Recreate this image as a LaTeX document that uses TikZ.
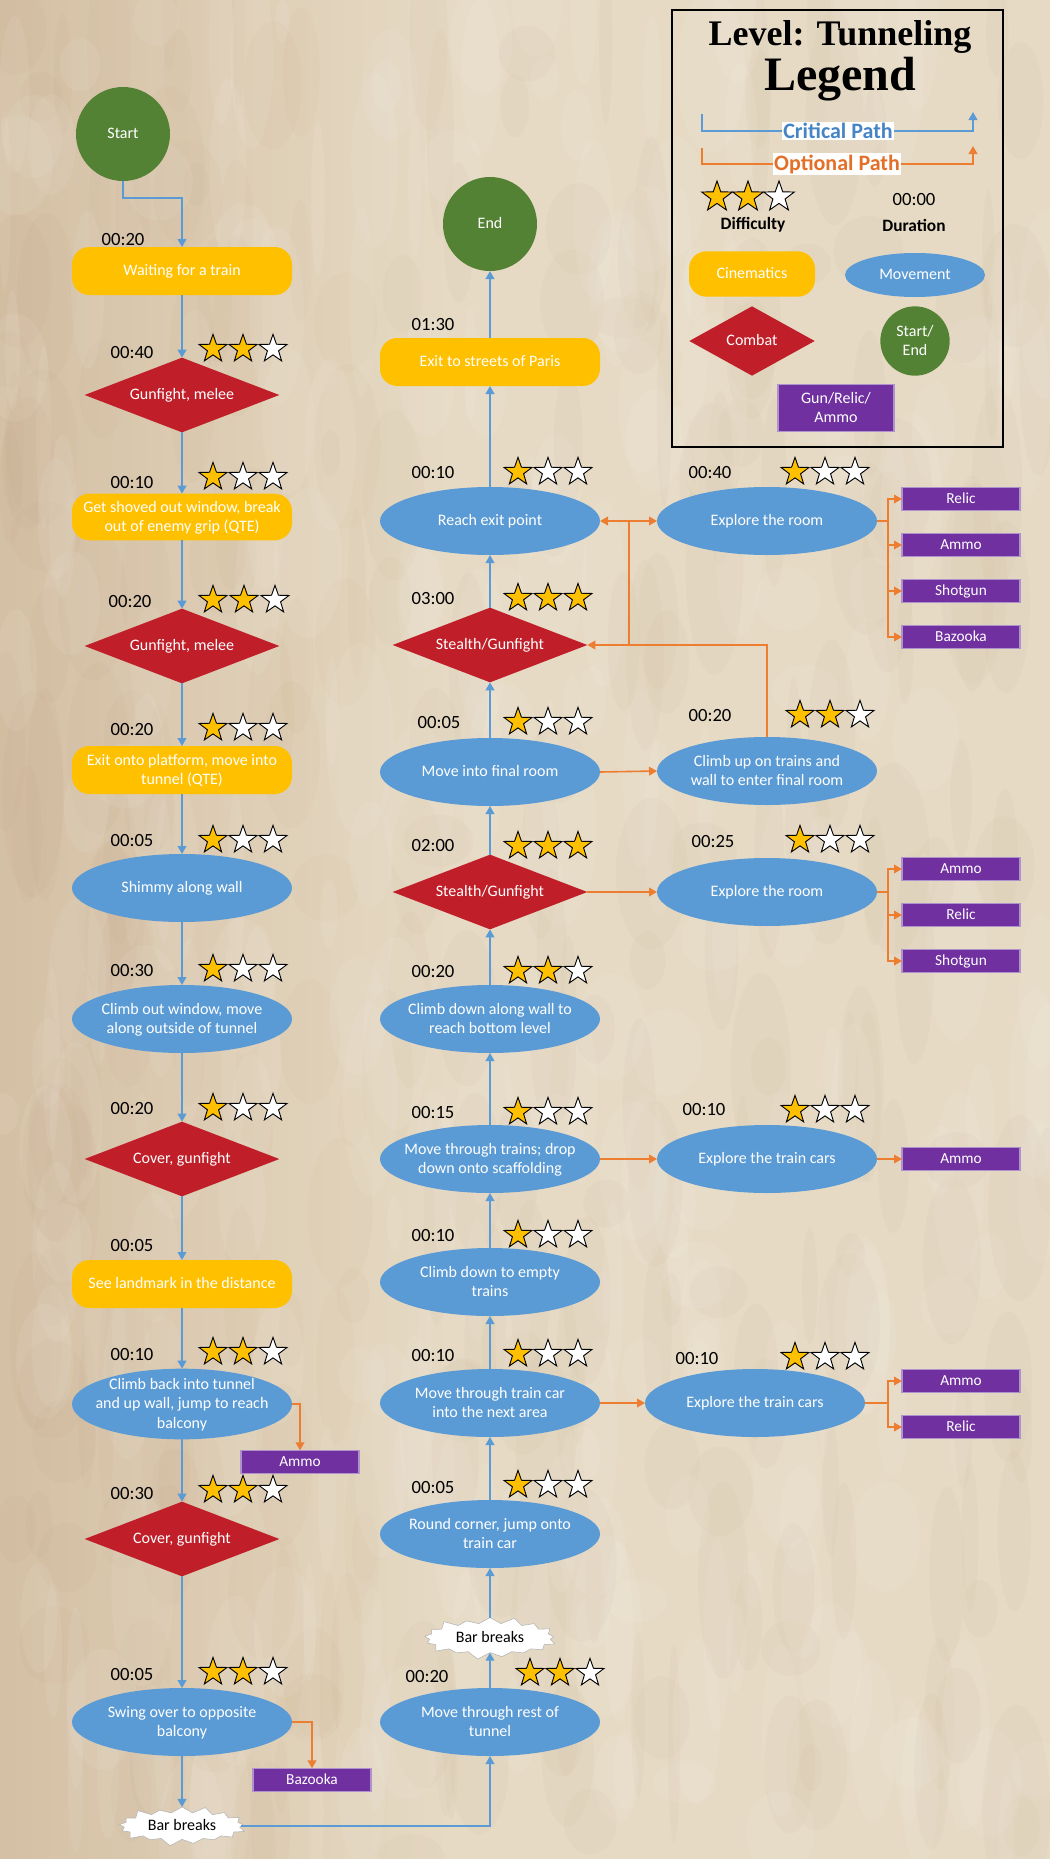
\documentclass[tikz,border=0pt]{standalone}
\usepackage{fontspec}
\setmainfont{Carlito}
\newfontfamily\titlefont{Liberation Serif}
\usetikzlibrary{shapes.geometric,shapes.symbols,arrows.meta}
\definecolor{paper}{RGB}{230,218,196}
\definecolor{paperD}{RGB}{170,130,90}
\definecolor{cineY}{RGB}{255,192,0}
\definecolor{moveB}{RGB}{91,155,213}
\definecolor{combR}{RGB}{192,30,40}
\definecolor{startG}{RGB}{84,130,53}
\definecolor{purp}{RGB}{112,48,160}
\definecolor{purpL}{RGB}{175,145,205}
\definecolor{critB}{RGB}{91,155,213}
\definecolor{critT}{RGB}{70,132,198}
\definecolor{optO}{RGB}{237,125,49}
\definecolor{optT}{RGB}{228,112,40}
\definecolor{goldS}{RGB}{255,192,0}
\newcommand\ctext[1]{\makebox[0pt]{\smash{\raisebox{-0.3em}{\begin{tabular}{@{}c@{}}#1\end{tabular}}}}}
\newcommand\ratestars[5]{%
  \foreach \k in {1,2,3}{%
    \pgfmathsetmacro\sx{#2+(\k-1)*#5}%
    \ifnum\k>#4\relax
      \node[whitestar] (#1-\k) at (\sx,#3) {};
    \else
      \node[goldstar] (#1-\k) at (\sx,#3) {};
    \fi
  }%
}
\begin{document}
\begin{tikzpicture}[x=0.75pt,y=-0.75pt,
  every node/.style={inner sep=0pt, outer sep=0pt},
  nodefont/.style={font=\fontsize{12}{14.5}\selectfont, text=white},
  cinebox/.style={nodefont, rectangle, rounded corners=13pt, fill=cineY, minimum width=165pt, minimum height=36pt},
  movebox/.style={nodefont, ellipse, fill=moveB, minimum width=165pt, minimum height=51pt},
  combatbox/.style={nodefont, diamond, fill=combR, minimum width=146pt, minimum height=56pt},
  termbox/.style={nodefont, circle, fill=startG, minimum size=70.5pt},
  itembox/.style={nodefont, font=\fontsize{11.5}{13}\selectfont, rectangle, fill=purp, draw=purpL, line width=0.8pt, minimum width=88.5pt, minimum height=17.5pt},
  burstbox/.style={starburst, starburst points=17, starburst point height=6pt, fill=white, draw=gray!60, text=black, font=\fontsize{12}{14}\selectfont, minimum width=99pt, minimum height=32pt},
  timelbl/.style={font=\fontsize{14}{16}\selectfont, text=black},
  goldstar/.style={star, star points=5, star point ratio=2.5, minimum size=22pt, fill=goldS, draw=black, line width=0.7pt},
  whitestar/.style={goldstar, fill=white},
  critline/.style={draw=critB, line width=1.2pt, -{Triangle[width=6.5pt,length=6pt]}},
  optline/.style={draw=optO, line width=1.2pt, -{Triangle[width=6.5pt,length=6pt]}},
]
\useasboundingbox (0,0) rectangle (1050,1859);
% ---------- parchment background ----------
\fill[paper] (0,0) rectangle (1050,1859);
\begin{scope}
\clip (0,0) rectangle (1050,1859);
\shade[left color=paperD!30!paper, right color=paper] (0,0) rectangle (450,1859);
\pgfmathsetseed{3}
\foreach \i in {1,...,260}{
  \pgfmathsetmacro\bx{rnd*1050}
  \pgfmathsetmacro\by{rnd*1859}
  \pgfmathsetmacro\rx{6+rnd*30}
  \pgfmathsetmacro\ry{20+rnd*90}
  \fill[paperD, opacity=0.035] (\bx,\by) ellipse [x radius=\rx, y radius=\ry];
}
\foreach \i in {1,...,260}{
  \pgfmathsetmacro\bx{rnd*1050}
  \pgfmathsetmacro\by{rnd*1859}
  \pgfmathsetmacro\rx{6+rnd*30}
  \pgfmathsetmacro\ry{20+rnd*80}
  \fill[white, opacity=0.07] (\bx,\by) ellipse [x radius=\rx, y radius=\ry];
}
\end{scope}

% ---------- left column ----------
\node[termbox] (start) at (123,134) {\ctext{Start}};
\node[cinebox] (waiting) at (182,271) {\ctext{Waiting for a train}};
\node[combatbox] (gun1) at (182,395) {\ctext{Gunfight, melee}};
\node[cinebox, minimum height=35pt] (shoved) at (182,517) {\ctext{Get shoved out window, break\\out of enemy grip (QTE)}};
\node[combatbox] (gun2) at (182,646) {\ctext{Gunfight, melee}};
\node[cinebox] (exitplat) at (182,770) {\ctext{Exit onto platform, move into\\tunnel (QTE)}};
\node[movebox] (shimmy) at (182,888) {\ctext{Shimmy along wall}};
\node[movebox] (climbout) at (182,1019) {\ctext{Climb out window, move\\along outside of tunnel}};
\node[combatbox] (cover1) at (182,1159) {\ctext{Cover, gunfight}};
\node[cinebox] (landmark) at (182,1284) {\ctext{See landmark in the distance}};
\node[movebox, minimum height=53pt] (climbback) at (182,1404) {\ctext{Climb back into tunnel\\and up wall, jump to reach\\balcony}};
\node[combatbox] (cover2) at (182,1539) {\ctext{Cover, gunfight}};
\node[movebox] (swing) at (182,1722) {\ctext{Swing over to opposite\\balcony}};
\node[burstbox] (bar1) at (182,1826) {\ctext{Bar breaks}};
\node[itembox] (ammoL) at (300,1462) {\ctext{Ammo}};
\node[itembox] (bazL) at (312,1780) {\ctext{Bazooka}};

\node[timelbl] (tl1) at (123,240) {00:20};
\node[timelbl] (tl2) at (132,353) {00:40};
\node[timelbl] (tl3) at (132,483) {00:10};
\node[timelbl] (tl4) at (130,602) {00:20};
\node[timelbl] (tl5) at (132,730) {00:20};
\node[timelbl] (tl6) at (132,841) {00:05};
\node[timelbl] (tl7) at (132,971) {00:30};
\node[timelbl] (tl8) at (132,1109) {00:20};
\node[timelbl] (tl9) at (132,1245) {00:05};
\node[timelbl] (tl10) at (132,1354) {00:10};
\node[timelbl] (tl11) at (132,1493) {00:30};
\node[timelbl] (tl12) at (132,1674) {00:05};

\ratestars{sA}{213}{349}{2}{30}
\ratestars{sB}{213}{477}{1}{30}
\ratestars{sC}{213}{600}{2}{31}
\ratestars{sD}{213}{728}{1}{30}
\ratestars{sE}{213}{840}{1}{30}
\ratestars{sF}{213}{969}{1}{30}
\ratestars{sG}{213}{1108}{1}{30}
\ratestars{sH}{213}{1352}{2}{30}
\ratestars{sI}{213}{1490}{2}{30}
\ratestars{sJ}{213}{1672}{2}{30}

% ---------- middle column ----------
\node[termbox] (end) at (490,224) {\ctext{End}};
\node[cinebox] (exitparis) at (490,362) {\ctext{Exit to streets of Paris}};
\node[movebox] (reach) at (490,521) {\ctext{Reach exit point}};
\node[combatbox] (stealth1) at (490,645) {\ctext{Stealth/Gunfight}};
\node[movebox] (movefinal) at (490,772) {\ctext{Move into final room}};
\node[combatbox] (stealth2) at (490,892) {\ctext{Stealth/Gunfight}};
\node[movebox] (climbwall) at (490,1019) {\ctext{Climb down along wall to\\reach bottom level}};
\node[movebox] (movetrains) at (490,1159) {\ctext{Move through trains; drop\\down onto scaffolding}};
\node[movebox] (climbempty) at (490,1282) {\ctext{Climb down to empty\\trains}};
\node[movebox] (movecar) at (490,1403) {\ctext{Move through train car\\into the next area}};
\node[movebox] (round) at (490,1534) {\ctext{Round corner, jump onto\\train car}};
\node[burstbox, minimum width=103pt, minimum height=34pt] (bar2) at (490,1638) {\ctext{Bar breaks}};
\node[movebox] (tunnel) at (490,1722) {\ctext{Move through rest of\\tunnel}};

\node[timelbl] (tm1) at (433,325) {01:30};
\node[timelbl] (tm2) at (433,473) {00:10};
\node[timelbl] (tm3) at (433,599) {03:00};
\node[timelbl] (tm4) at (439,723) {00:05};
\node[timelbl] (tm5) at (433,846) {02:00};
\node[timelbl] (tm6) at (433,972) {00:20};
\node[timelbl] (tm7) at (433,1113) {00:15};
\node[timelbl] (tm8) at (433,1236) {00:10};
\node[timelbl] (tm9) at (433,1355) {00:10};
\node[timelbl] (tm10) at (433,1487) {00:05};
\node[timelbl] (tm11) at (427,1676) {00:20};

\ratestars{mA}{518}{472}{1}{30}
\ratestars{mB}{518}{598}{3}{30}
\ratestars{mC}{518}{722}{1}{30}
\ratestars{mD}{518}{846}{3}{30}
\ratestars{mE}{518}{971}{2}{30}
\ratestars{mF}{518}{1112}{1}{30}
\ratestars{mG}{518}{1235}{1}{30}
\ratestars{mH}{518}{1354}{1}{30}
\ratestars{mI}{518}{1485}{1}{30}
\ratestars{mJ}{530}{1673}{2}{30}

% ---------- right column ----------
\node[movebox] (explore1) at (767,521) {\ctext{Explore the room}};
\node[movebox] (climbup) at (767,771) {\ctext{Climb up on trains and\\wall to enter final room}};
\node[movebox] (explore2) at (767,892) {\ctext{Explore the room}};
\node[movebox] (explore3) at (767,1159) {\ctext{Explore the train cars}};
\node[movebox] (explore4) at (755,1403) {\ctext{Explore the train cars}};

\node[timelbl] (tr1) at (710,473) {00:40};
\node[timelbl] (tr2) at (710,716) {00:20};
\node[timelbl] (tr3) at (713,842) {00:25};
\node[timelbl] (tr4) at (704,1110) {00:10};
\node[timelbl] (tr5) at (697,1358) {00:10};

\ratestars{rA}{795}{472}{1}{30}
\ratestars{rB}{800}{715}{2}{30}
\ratestars{rC}{800}{840}{1}{30}
\ratestars{rD}{795}{1110}{1}{30}
\ratestars{rE}{795}{1357}{1}{30}

\node[itembox] (r1) at (961,499) {\ctext{Relic}};
\node[itembox] (r2) at (961,545) {\ctext{Ammo}};
\node[itembox] (r3) at (961,591) {\ctext{Shotgun}};
\node[itembox] (r4) at (961,637) {\ctext{Bazooka}};
\node[itembox] (r5) at (961,869) {\ctext{Ammo}};
\node[itembox] (r6) at (961,915) {\ctext{Relic}};
\node[itembox] (r7) at (961,961) {\ctext{Shotgun}};
\node[itembox] (r8) at (961,1159) {\ctext{Ammo}};
\node[itembox] (r9) at (961,1381) {\ctext{Ammo}};
\node[itembox] (r10) at (961,1427) {\ctext{Relic}};

% ---------- critical path connectors ----------
\coordinate (b0) at (182,198);
\draw[critline] (start.south) |- (b0) -- (waiting.north);
\foreach \a/\b in {waiting/gun1,gun1/shoved,shoved/gun2,gun2/exitplat,exitplat/shimmy,shimmy/climbout,climbout/cover1,cover1/landmark,landmark/climbback,climbback/cover2,cover2/swing,swing/bar1}
  \draw[critline] (\a.south) -- (\b.north);
\draw[critline] (bar1.east) -| (tunnel.south);
\foreach \a/\b in {tunnel/bar2,bar2/round,round/movecar,movecar/climbempty,climbempty/movetrains,movetrains/climbwall,climbwall/stealth2,stealth2/movefinal,movefinal/stealth1,stealth1/reach,reach/exitparis,exitparis/end}
  \draw[critline] (\a.north) -- (\b.south);

% ---------- optional path connectors ----------
\draw[optline] (climbback.east) -| (ammoL.north);
\draw[optline] (swing.east) -| (bazL.north);
\draw[optline] (movefinal.east) -- (climbup.west);
\draw[optline] (stealth2.east) -- (explore2.west);
\draw[optline] (movetrains.east) -- (explore3.west);
\draw[optline] (movecar.east) -- (explore4.west);
\draw[optline] (explore3.east) -- (r8.west);
\draw[optline] (climbup.north) |- (stealth1.east);
\coordinate (j1) at (629,521);
\coordinate (j2) at (629,645);
\draw[optline,-] (j2) -- (j1);
\draw[optline] (j1) -- (reach.east);
\draw[optline] (j1) -- (explore1.west);
\coordinate (f1) at (888,521);
\draw[optline,-] (explore1.east) -- (f1);
\foreach \b in {r1,r2,r3,r4} \draw[optline] (f1) |- (\b.west);
\coordinate (f2) at (888,892);
\draw[optline,-] (explore2.east) -- (f2);
\foreach \b in {r5,r6,r7} \draw[optline] (f2) |- (\b.west);
\coordinate (f4) at (888,1403);
\draw[optline,-] (explore4.east) -- (f4);
\foreach \b in {r9,r10} \draw[optline] (f4) |- (\b.west);

% ---------- legend ----------
\draw[line width=2.2pt] (672,10) rectangle (1003,447);
\node (title1) at (840,37) {\titlefont\bfseries\fontsize{27}{29}\selectfont Level: Tunneling};
\node (title2) at (840,79) {\titlefont\bfseries\fontsize{36}{38}\selectfont Legend};
\coordinate (lc1) at (702,114);
\coordinate (lcM) at (838,131);
\coordinate (lc2) at (973,112);
\draw[critline] (lc1) |- (lcM) -| (lc2);
\node[fill=white, inner sep=1pt, text=critT, font=\bfseries\fontsize{16.5}{18}\selectfont] (lcT) at (lcM) {Critical Path};
\coordinate (lo1) at (702,148);
\coordinate (loM) at (837,164);
\coordinate (lo2) at (973,146);
\draw[optline] (lo1) |- (loM) -| (lo2);
\node[fill=white, inner sep=1pt, text=optT, font=\bfseries\fontsize{16.5}{18}\selectfont] (loT) at (loM) {Optional Path};
\begin{scope}[goldstar/.append style={minimum size=24pt}]
\ratestars{lS}{717}{197}{2}{31}
\end{scope}
\node[timelbl] (ldur) at (914,200) {00:00};
\node[font=\bfseries\fontsize{13}{15}\selectfont] (ldiff) at (753,225) {Difficulty};
\node[font=\bfseries\fontsize{13}{15}\selectfont] (lduration) at (914,225) {Duration};
\node[cinebox, minimum width=94.5pt, minimum height=34pt] (lcine) at (752,274) {\ctext{Cinematics}};
\node[movebox, minimum width=105pt, minimum height=33pt] (lmove) at (915,275) {\ctext{Movement}};
\node[combatbox, minimum width=94pt, minimum height=52pt] (lcombat) at (752,341) {\ctext{Combat}};
\node[termbox, minimum size=52pt] (lstart) at (915,341) {\ctext{Start/\\End}};
\node[itembox, minimum width=87pt, minimum height=35pt, font=\fontsize{12}{14.5}\selectfont] (lgun) at (836,408) {\ctext{Gun/Relic/\\Ammo}};
\end{tikzpicture}
\end{document}
